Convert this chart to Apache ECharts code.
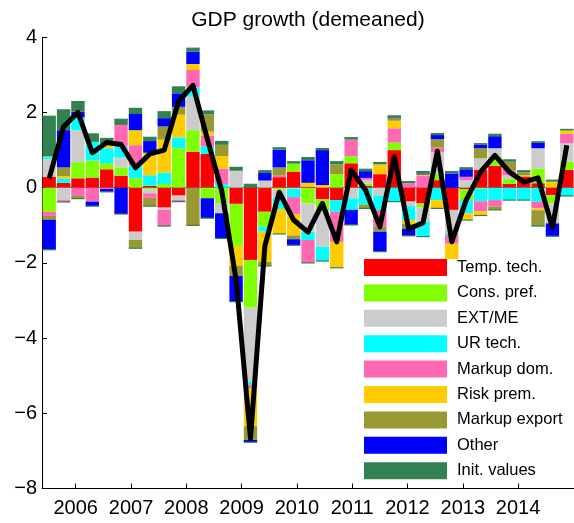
<!DOCTYPE html>
<html><head><meta charset="utf-8">
<script src="https://cdn.jsdelivr.net/npm/echarts@6/dist/echarts.min.js"></script>
<style>html,body{margin:0;padding:0;background:#fff}#c{width:574px;height:523px}</style>
</head><body><div id="c"></div>
<script>
const quarters = [];
for (let y = 2005, q = 3, n = 0; n < 37; n++) { quarters.push(y + 'Q' + q); q++; if (q > 4) { q = 1; y++; } }
const yearTicks = [2006, 2007, 2008, 2009, 2010, 2011, 2012, 2013, 2014];
const chartTitle = 'GDP growth (demeaned)';

const tempTech   = [0.29,0.13,0.25,0.27,0.49,0.32,-1.17,0.05,-0.53,-0.21,0.96,0.9,0,-0.43,-1.92,-0.64,0.28,0.43,0.03,-0.31,-0.33,0.65,0.05,0.36,1.0,-0.37,-0.42,0.2,-0.59,-0.04,0.47,0.58,0.1,0.3,0.12,-0.2,0.47];
const consPref   = [-0.64,0,0.43,0.45,0.16,0.22,0.25,-0.04,0.1,1.05,0.57,-0.28,-0.42,-1.12,-1.27,-0.4,-0.05,0.21,-0.42,-0.33,0.36,0.19,0.06,0,0.2,0,-0.1,0.18,0,-0.29,-0.03,0.24,0.13,0,0.39,-0.22,0.22];
const extMe      = [0.46,-0.33,0.85,0,0,0.26,-0.22,-0.11,-0.06,-0.11,0.89,0,-0.26,0.45,-1.97,0.19,-0.22,-0.03,-0.75,-0.93,0,-0.28,0.1,-0.21,0,-0.12,-0.38,0.57,-0.62,0.2,0.31,0.23,0.1,0,0.54,-0.53,0.49];
const urTech     = [0.06,0.12,0.34,0.5,0.4,0.29,0.33,0.28,0.3,0.29,0.25,0.2,0.1,0,-0.09,-0.13,-0.3,-0.22,-0.22,-0.38,-0.31,-0.31,-0.45,-0.38,-0.37,-0.37,-0.4,-0.33,-0.05,-0.35,-0.33,-0.33,-0.33,-0.33,-0.37,0,-0.22];
const markupDom  = [-0.11,-0.05,-0.22,-0.37,-0.03,0.58,0.55,-0.12,-0.43,-0.05,0.46,0.29,0.41,0,-0.09,0,0.04,-0.46,-0.61,0,-0.8,0.44,0.05,-0.45,0.38,0.12,0.31,0.12,-0.23,0.09,-0.27,-0.17,0.14,0,-0.18,0,0.25];
const riskPrem   = [0.02,0.06,0,0,0.08,0,0.4,0.6,0.88,0.6,0.16,0.1,0.33,-0.53,-1.0,-0.8,-0.66,-0.56,0.1,0.07,-0.69,0,0,0.26,0.2,-0.1,0.04,-0.22,-0.43,-0.18,-0.11,0,0,0.03,-0.05,0.16,0.09];
const markupExp  = [-0.1,0.23,-0.07,0,0,0,-0.22,-0.22,0.35,0.21,-1.0,0.46,0.3,-0.27,-0.37,-0.11,0.22,-0.1,0,0,0.26,0,-0.1,-0.13,0.07,-0.13,0,0.22,0,0,0.27,-0.09,0.22,0.08,-0.42,0,0];
const other      = [-0.8,0.99,0.15,-0.12,-0.08,-0.7,0.43,0.31,0.22,0.36,0.33,-0.53,-0.67,-0.68,-0.06,0.2,0.47,-0.16,0.6,0.93,0,-0.4,0.18,-0.53,0.02,-0.19,0.03,0.11,0.38,0.2,0.09,0.32,0,0,0.14,-0.34,0];
const initValues = [1.07,0.54,0.27,0.21,0.18,0.15,0.15,0.1,0.17,0.17,0.09,0.09,0.09,0.09,0.09,0.06,0.05,0.05,0.07,0.04,0.07,0.05,0.05,0.05,0.04,0.04,0.05,0.04,0.05,0.04,0.03,0.05,0.05,0.04,0.03,0.04,0.03];
const gdpGrowth  = [0.25,1.62,2.0,0.93,1.2,1.15,0.53,0.9,1.0,2.3,2.72,1.29,-0.08,-2.45,-6.67,-1.55,-0.12,-0.86,-1.18,-0.42,-1.44,0.47,-0.06,-1.04,0.82,-1.1,-0.93,0.97,-1.44,-0.33,0.42,0.86,0.42,0.15,0.26,-1.06,1.13];

const components = [
  { name: 'Temp. tech.',   data: tempTech,   color: '#FF0000' },
  { name: 'Cons. pref.',   data: consPref,   color: '#80FF00' },
  { name: 'EXT/ME',        data: extMe,      color: '#CCCCCC' },
  { name: 'UR tech.',      data: urTech,     color: '#00FFFF' },
  { name: 'Markup dom.',   data: markupDom,  color: '#FF69B4' },
  { name: 'Risk prem.',    data: riskPrem,   color: '#FFCC00' },
  { name: 'Markup export', data: markupExp,  color: '#999933' },
  { name: 'Other',         data: other,      color: '#0000FF' },
  { name: 'Init. values',  data: initValues, color: '#338050' }
];

const FONT = 'Liberation Sans, Arial, Helvetica, sans-serif';
const chart = echarts.init(document.getElementById('c'), null, { renderer: 'canvas' });

const series = components.map(c => ({
  name: c.name, type: 'bar', stack: 'total', xAxisIndex: 0, yAxisIndex: 0,
  barCategoryGap: '7%', data: c.data, itemStyle: { color: c.color },
  emphasis: { disabled: true }, animation: false
}));

series.push({
  name: 'edges', type: 'custom', xAxisIndex: 0, yAxisIndex: 0, z: 3, animation: false,
  data: quarters.map((q, i) => [i]),
  renderItem: function (params, api) {
    const i = api.value(0);
    let pos = 0, neg = 0;
    components.forEach(c => { const v = c.data[i]; if (v > 0) pos += v; else neg += v; });
    const w = api.size([1, 0])[0] * 0.93;
    const children = [];
    if (pos > 0) {
      const p = api.coord([i, pos]);
      children.push({ type: 'rect', shape: { x: p[0] - w / 2, y: p[1] - 0.6, width: w, height: 1.2 }, style: { fill: '#338050' } });
    }
    if (neg < 0) {
      const p = api.coord([i, neg]);
      children.push({ type: 'rect', shape: { x: p[0] - w / 2, y: p[1] - 0.6, width: w, height: 1.2 }, style: { fill: '#338050' } });
    }
    return { type: 'group', children: children };
  }
});

series.push({
  name: 'GDP', type: 'line', xAxisIndex: 0, yAxisIndex: 0, data: gdpGrowth,
  symbol: 'none', z: 5, animation: false,
  lineStyle: { color: '#000', width: 5, join: 'round' }
});

chart.setOption({
  backgroundColor: '#fff',
  animation: false,
  graphic: [{
    type: 'text', x: 308, y: 20,
    style: { text: chartTitle, fontSize: 21, fontFamily: FONT, fill: '#000', align: 'center', verticalAlign: 'middle' }
  }],
  legend: {
    data: components.map(c => c.name),
    orient: 'vertical', left: 364, top: 259, padding: 0,
    itemWidth: 83, itemHeight: 17, itemGap: 8.4,
    icon: 'rect', backgroundColor: '#fff',
    selectedMode: false,
    textStyle: { fontSize: 16.5, fontFamily: FONT, color: '#000', padding: [0, 0, 0, 5] }
  },
  grid: { left: 42, right: 0, top: 37.3, bottom: 34.5, containLabel: false },
  xAxis: [
    {
      type: 'category', data: quarters, gridIndex: 0, position: 'bottom',
      axisLine: { show: true, onZero: true, lineStyle: { color: '#555', width: 1 } },
      axisTick: { show: false }, axisLabel: { show: false }, splitLine: { show: false }
    },
    {
      type: 'value', gridIndex: 0, position: 'bottom', min: 2005.39, max: 2015.012,
      axisLine: { show: true, onZero: false, lineStyle: { color: '#000', width: 1 } },
      axisTick: { show: true, inside: true, length: 5, customValues: yearTicks, lineStyle: { color: '#000' } },
      axisLabel: { show: true, customValues: yearTicks, margin: 10, fontSize: 20, fontFamily: FONT, color: '#000', formatter: v => String(v) },
      splitLine: { show: false }
    }
  ],
  yAxis: {
    type: 'value', min: -8, max: 4, interval: 2,
    axisLine: { show: true, onZero: false, lineStyle: { color: '#000', width: 1 } },
    axisTick: { show: true, inside: true, length: 5, lineStyle: { color: '#000' } },
    axisLabel: { fontSize: 20, fontFamily: FONT, color: '#000', margin: 5, formatter: v => String(v).replace('-', '\u2212') },
    splitLine: { show: false }
  },
  series: series
});
</script>
</body></html>
